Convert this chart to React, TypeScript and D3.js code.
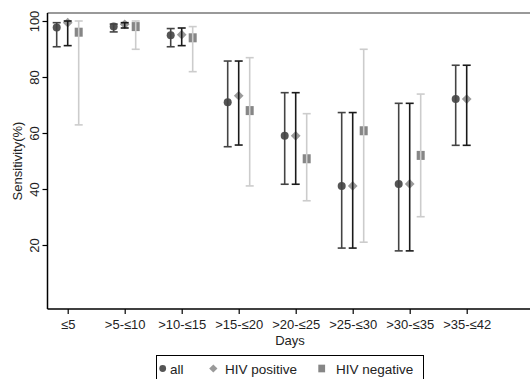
import * as d3 from "d3";
import { useEffect, useRef } from "react";

const categories = ["≤5", ">5-≤10", ">10-≤15", ">15-≤20", ">20-≤25", ">25-≤30", ">30-≤35", ">35-≤42"];

const allEst = [97.7, 98, 94.9, 71, 59, 41.1, 41.8, 72.1];
const allLo = [90.8, 96.1, 90.8, 55.1, 41.7, 18.9, 17.9, 55.6];
const allHi = [99.4, 98.9, 97.3, 85.7, 74.4, 67.3, 70.6, 84.2];

const posEst = [99.4, 98.8, 95.1, 73.3, 59, 41.1, 41.8, 72.1];
const posLo = [91.2, 97.5, 91.2, 55.7, 41.7, 18.9, 17.9, 55.6];
const posHi = [100, 99.4, 97.5, 85.7, 74.4, 67.3, 70.6, 84.2];

const negEst = [96, 98, 94, 68, 50.8, 60.8, 52, null];
const negLo = [62.9, 89.9, 81.9, 41.1, 35.8, 21, 30.1, null];
const negHi = [100, 100, 98, 86.9, 66.9, 89.9, 73.9, null];

const yTicks = [20, 40, 60, 80, 100];

const W = 530;
const H = 379;

export default function App() {
  const svgRef = useRef(null);

  useEffect(() => {
    const svg = d3.select(svgRef.current);
    svg.selectAll("*").remove();
    const font = "'Liberation Sans', Arial, sans-serif";

    const x = d3.scaleLinear().domain([0, 7]).range([67.7, 466.7]);
    const y = d3.scaleLinear().domain([0, 100]).range([301, 21]);
    const left = 47.5, right = W, top = 13, bottom = 309;
    const off = 11;

    const series = [
      { name: "all", est: allEst, lo: allLo, hi: allHi, dx: -off, shape: "circle", fill: "#555555", stroke: "#444444" },
      { name: "HIV positive", est: posEst, lo: posLo, hi: posHi, dx: 0, shape: "diamond", fill: "#9a9a9a", stroke: "#1a1a1a" },
      { name: "HIV negative", est: negEst, lo: negLo, hi: negHi, dx: off, shape: "square", fill: "#868686", stroke: "#cccccc" },
    ];

    // frame
    svg.append("line").attr("x1", left).attr("x2", right).attr("y1", top).attr("y2", top)
      .attr("stroke", "#777").attr("stroke-width", 1.5);

    // y axis
    const ya = svg.append("g").attr("transform", `translate(${left},0)`)
      .call(d3.axisLeft(y).tickValues(yTicks).tickSize(5).tickFormat(d3.format("d")));
    ya.select(".domain").remove();
    ya.selectAll(".tick line").attr("stroke", "#000").attr("stroke-width", 1.2);
    ya.selectAll(".tick text")
      .attr("transform", "rotate(-90)")
      .attr("x", 0).attr("y", -9).attr("dy", 0)
      .attr("text-anchor", "middle")
      .style("font-family", font).style("font-size", "13px").attr("fill", "#222");
    svg.append("line").attr("x1", left).attr("x2", left).attr("y1", top).attr("y2", bottom)
      .attr("stroke", "#000").attr("stroke-width", 1.5);

    // x axis
    const xa = svg.append("g").attr("transform", `translate(0,${bottom})`)
      .call(d3.axisBottom(x).tickValues(d3.range(categories.length)).tickSize(5).tickFormat((d) => categories[d]));
    xa.select(".domain").remove();
    xa.selectAll(".tick line").attr("stroke", "#000").attr("stroke-width", 1.2);
    xa.selectAll(".tick text").attr("y", 11).attr("dy", "0.71em")
      .style("font-family", font).style("font-size", "13px").attr("fill", "#222");
    svg.append("line").attr("x1", left).attr("x2", right).attr("y1", bottom).attr("y2", bottom)
      .attr("stroke", "#000").attr("stroke-width", 1.5);

    // titles
    svg.append("text").attr("x", 290).attr("y", 345).attr("text-anchor", "middle")
      .style("font-family", font).style("font-size", "13px").attr("fill", "#222").text("Days");
    svg.append("text").attr("transform", `translate(22,${(top + bottom) / 2}) rotate(-90)`)
      .attr("text-anchor", "middle")
      .style("font-family", font).style("font-size", "13px").attr("fill", "#222").text("Sensitivity(%)");

    const marker = (g, shape, cx, cy, fill, k = 1) => {
      if (shape === "circle") g.append("circle").attr("cx", cx).attr("cy", cy).attr("r", 4 * k).attr("fill", fill);
      else if (shape === "diamond") g.append("path").attr("d", d3.symbol(d3.symbolDiamond2, 60 * k * k)()).attr("transform", `translate(${cx},${cy})`).attr("fill", fill);
      else g.append("rect").attr("x", cx - 4 * k).attr("y", cy - 4.5 * k).attr("width", 8 * k).attr("height", 9 * k).attr("fill", fill);
    };

    const plot = svg.append("g");
    series.forEach((s) => {
      const g = plot.append("g");
      s.est.forEach((v, i) => {
        if (v == null) return;
        marker(g, s.shape, x(i) + s.dx, y(v), s.fill);
      });
    });
    series.forEach((s) => {
      const g = plot.append("g");
      s.est.forEach((v, i) => {
        if (v == null) return;
        const cx = x(i) + s.dx;
        const y1 = y(s.hi[i]), y2 = y(s.lo[i]);
        g.append("line").attr("x1", cx).attr("x2", cx).attr("y1", y1).attr("y2", y2)
          .attr("stroke", s.stroke).attr("stroke-width", 1.6);
        [y1, y2].forEach((yy) => g.append("line").attr("x1", cx - 4).attr("x2", cx + 4).attr("y1", yy).attr("y2", yy)
          .attr("stroke", s.stroke).attr("stroke-width", 1.6));
      });
    });

    // legend
    const lg = svg.append("g");
    lg.append("rect").attr("x", 156.5).attr("y", 355.5).attr("width", 267).attr("height", 30)
      .attr("fill", "#fff").attr("stroke", "#000").attr("stroke-width", 1);
    const lx = [162.7, 213.3, 321.7];
    const tx = [170, 225, 336];
    series.forEach((s, i) => {
      marker(lg, s.shape, lx[i], 368.5, s.fill, 0.85);
      lg.append("text").attr("x", tx[i]).attr("y", 373.5)
        .style("font-family", font).style("font-size", "13.5px").attr("fill", "#222").text(s.name);
    });
  }, []);

  return (
    <svg ref={svgRef} width={W} height={H}
      style={{ position: "absolute", left: 0, top: 0, background: "#fff" }} />
  );
}
